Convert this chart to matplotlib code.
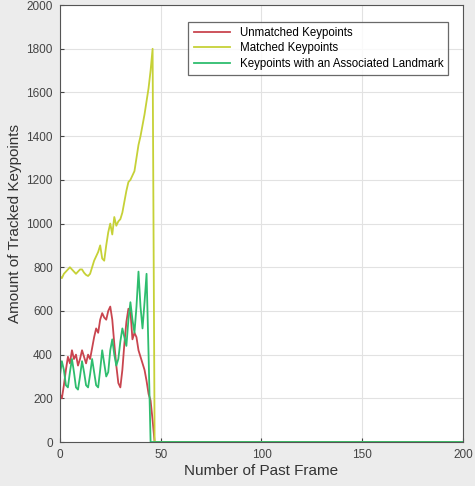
import matplotlib
matplotlib.use("Agg")
import matplotlib.pyplot as plt

plt.rcParams['font.family'] = ['Liberation Sans', 'DejaVu Sans']

# frame index (data ends around frame 47, then zero until 200)
frames = list(range(48)) + [200]

unmatched = [220, 200, 260, 330, 390, 360, 420, 380, 400, 350,
             380, 420, 390, 360, 400, 380, 430, 480, 520, 500,
             560, 590, 570, 560, 600, 620, 560, 450, 350, 270,
             250, 330, 450, 550, 610, 600, 470, 500, 480, 420,
             390, 360, 330, 280, 220, 190, 100, 0, 0]

matched = [760, 750, 770, 780, 790, 800, 790, 780, 770, 780,
           790, 790, 775, 765, 760, 770, 800, 830, 850, 870,
           900, 840, 830, 900, 960, 1000, 950, 1030, 990, 1010,
           1020, 1050, 1100, 1150, 1190, 1200, 1220, 1240, 1300, 1360,
           1400, 1450, 1500, 1560, 1620, 1700, 1800, 0, 0]

landmark = [300, 370, 330, 260, 250, 320, 380, 320, 250, 240,
            300, 370, 320, 260, 250, 310, 380, 320, 260, 250,
            330, 420, 360, 300, 320, 420, 470, 400, 350, 380,
            460, 520, 480, 440, 560, 640, 560, 500, 620, 780,
            620, 520, 640, 770, 400, 0, 0, 0, 0]

fig = plt.figure(figsize=(4.75, 4.86), dpi=100)
fig.patch.set_facecolor('#ececec')
ax = fig.add_axes([0.126, 0.0905, 0.849, 0.899])

ax.plot(frames, unmatched, color='#c9454f', lw=1.3, label='Unmatched Keypoints')
ax.plot(frames, matched, color='#c6d137', lw=1.3, label='Matched Keypoints')
ax.plot(frames, landmark, color='#2ebd6e', lw=1.3, label='Keypoints with an Associated Landmark')

ax.set_xlim(0, 200)
ax.set_ylim(0, 2000)
ax.set_xticks([0, 50, 100, 150, 200])
ax.set_yticks(range(0, 2001, 200))
ax.tick_params(direction='in', labelsize=8.5, colors='#444444', length=3, pad=5)
ax.grid(True, color='#e2e2e2', lw=0.8)
ax.set_axisbelow(True)
for s in ax.spines.values():
    s.set_color('#555555')

ax.set_xlabel('Number of Past Frame', fontsize=11, color='#333333', labelpad=2)
ax.set_ylabel('Amount of Tracked Keypoints', fontsize=11, color='#333333', labelpad=3)

leg = ax.legend(loc='upper right', bbox_to_anchor=(0.978, 0.975), fontsize=8.3,
                frameon=True, fancybox=False, edgecolor='#444444',
                handlelength=3.2, borderpad=0.45, labelspacing=0.3)
leg.get_frame().set_linewidth(0.9)

plt.savefig('out.png', dpi=100, facecolor=fig.get_facecolor())
